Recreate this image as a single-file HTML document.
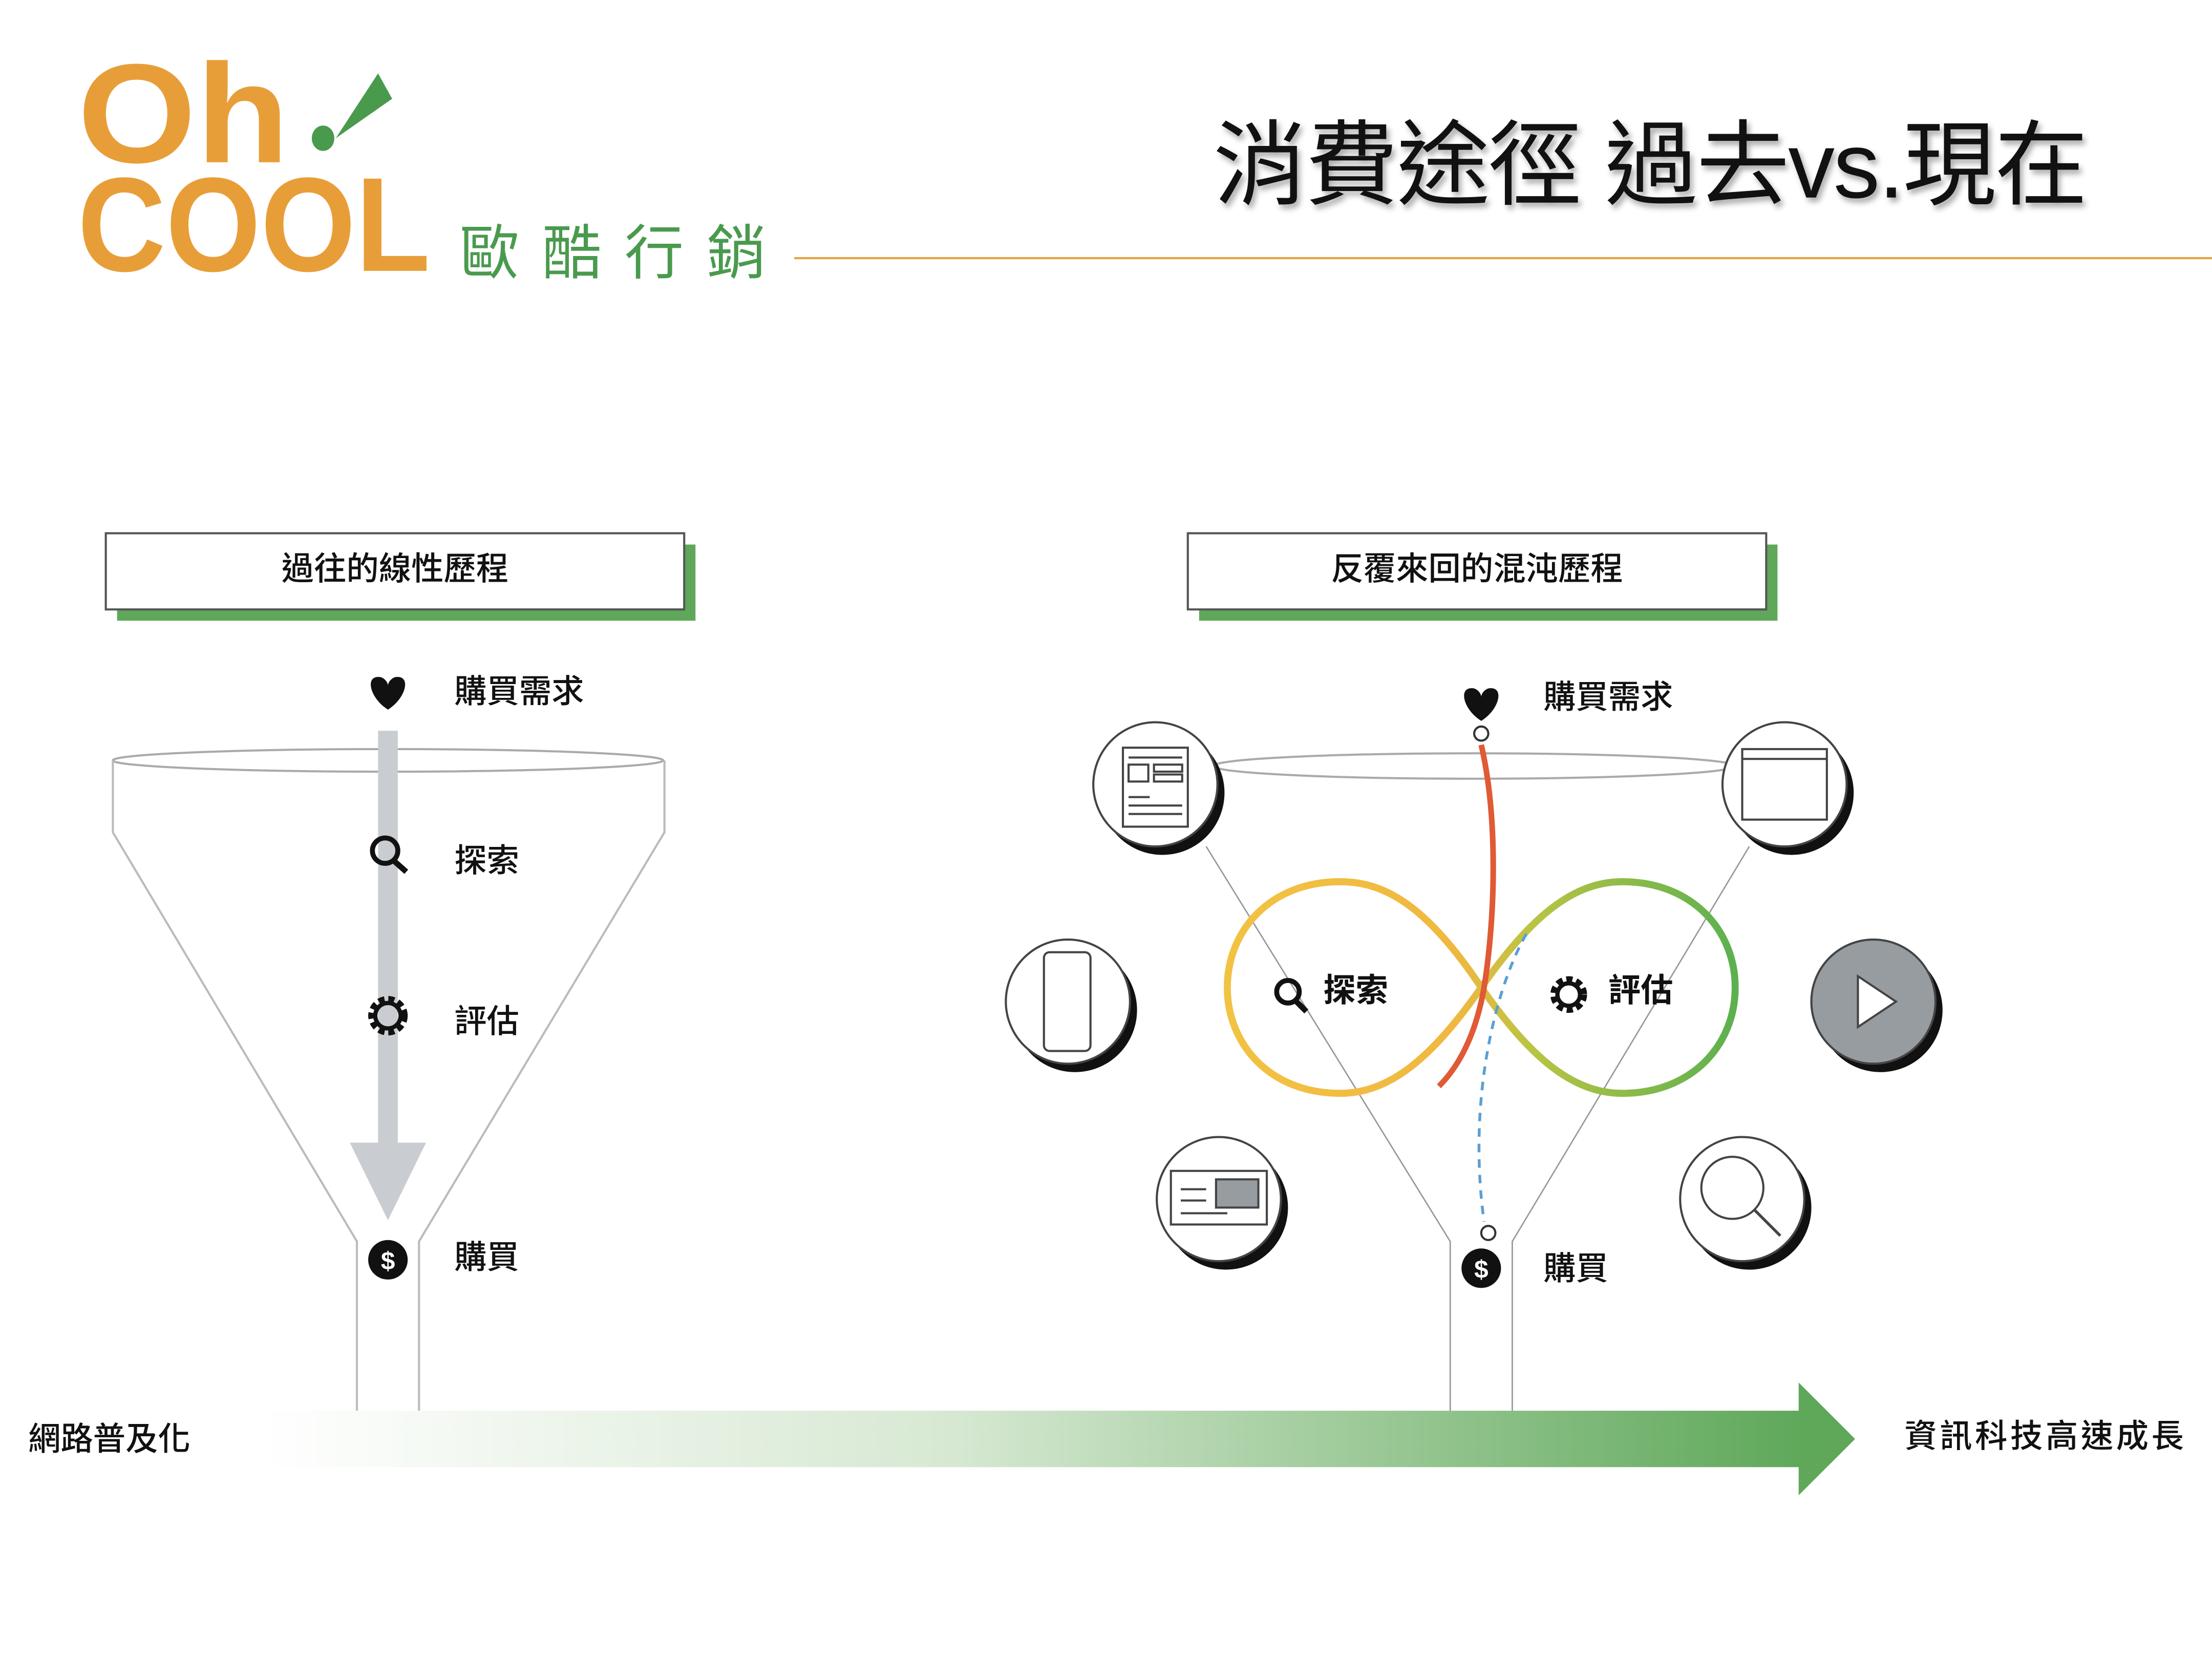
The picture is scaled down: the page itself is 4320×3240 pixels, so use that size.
<!DOCTYPE html>
<html><head><meta charset="utf-8"><style>
html,body{margin:0;padding:0;background:#fff;}
svg{display:block;}
text{font-family:"Liberation Sans","Noto Sans CJK TC",sans-serif;}
</style></head><body>
<svg width="4320" height="3240" viewBox="0 0 1568 1176" xmlns="http://www.w3.org/2000/svg">
<defs>
<linearGradient id="ga" x1="0" x2="1" y1="0" y2="0">
<stop offset="0" stop-color="#ffffff"/><stop offset="0.45" stop-color="#d6e8d2"/><stop offset="1" stop-color="#5fa85a"/>
</linearGradient>
<linearGradient id="inf" x1="0" x2="1" y1="0" y2="0">
<stop offset="0" stop-color="#f2c243"/><stop offset="0.45" stop-color="#f0b840"/><stop offset="0.6" stop-color="#b9c443"/><stop offset="1" stop-color="#5cb050"/>
</linearGradient>
</defs>
<rect width="1568" height="1176" fill="#fff"/>
<!-- logo -->
<text x="55" y="115" font-size="100" font-weight="bold" fill="#e89e38" textLength="150" lengthAdjust="spacingAndGlyphs">Oh</text>
<polygon points="268,52 278,70 238,98" fill="#4a9a4e"/>
<ellipse cx="229" cy="98" rx="8" ry="9" fill="#4a9a4e"/>
<text x="55" y="192" font-size="95" font-weight="bold" fill="#e89e38" textLength="250" lengthAdjust="spacingAndGlyphs">COOL</text>
<text x="326" y="194" font-size="42" fill="#4a9a4e" textLength="217" lengthAdjust="spacing">歐酷行銷</text>
<line x1="563" y1="183" x2="1568" y2="183" stroke="#e8a040" stroke-width="1.5"/>
<text x="860" y="140" font-size="66" fill="#111" textLength="620" lengthAdjust="spacing" style="filter:drop-shadow(2px 3px 2px #aaa)">消費途徑  過去vs.現在</text>

<!-- title boxes -->
<rect x="83" y="386" width="410" height="54" fill="#5fa85a"/>
<rect x="75" y="378" width="410" height="54" fill="#fff" stroke="#555" stroke-width="1.5"/>
<text x="280" y="411" font-size="23" font-weight="500" text-anchor="middle" fill="#111">過往的線性歷程</text>
<rect x="850" y="386" width="410" height="54" fill="#5fa85a"/>
<rect x="842" y="378" width="410" height="54" fill="#fff" stroke="#555" stroke-width="1.5"/>
<text x="1047" y="411" font-size="23" font-weight="500" text-anchor="middle" fill="#111">反覆來回的混沌歷程</text>

<!-- left funnel -->
<ellipse cx="275" cy="539" rx="195" ry="8" fill="none" stroke="#aaa" stroke-width="1.5"/>
<path d="M80,539 V590 L253,880 V1000 M471,539 V590 L297,880 V1000" fill="none" stroke="#bbb" stroke-width="1.5"/>
<rect x="268" y="518" width="14" height="295" fill="#c9cdd1"/>
<polygon points="248,810 302,810 275,865" fill="#c9cdd1"/>
<path d="M275,503 C262,495 258,478 270,480 C273,481 275,484 275,486 C275,484 277,481 280,480 C292,478 288,495 275,503Z" fill="#111"/>
<text x="322" y="498" font-size="23" font-weight="500" fill="#111">購買需求</text>
<circle cx="273" cy="603" r="9" fill="none" stroke="#111" stroke-width="3.5"/>
<line x1="279" y1="610" x2="288" y2="618" stroke="#111" stroke-width="4"/>
<text x="322" y="618" font-size="23" font-weight="500" fill="#111">探索</text>
<circle cx="275" cy="720" r="11" fill="none" stroke="#111" stroke-width="6" stroke-dasharray="4 2.5"/>
<circle cx="275" cy="720" r="9" fill="none" stroke="#111" stroke-width="3"/>
<text x="322" y="732" font-size="23" font-weight="500" fill="#111">評估</text>
<circle cx="275" cy="893" r="14" fill="#111"/>
<text x="275" y="900" font-size="18" font-weight="bold" fill="#fff" text-anchor="middle">$</text>
<text x="322" y="899" font-size="23" font-weight="500" fill="#111">購買</text>

<!-- right funnel -->
<ellipse cx="1045" cy="543" rx="185" ry="9" fill="none" stroke="#aaa" stroke-width="1.5"/>
<path d="M855,600 L1028,880 V1000 M1240,600 L1072,880 V1000" fill="none" stroke="#999" stroke-width="1"/>
<path d="M1050,700 C1010,640 980,625 950,625 C900,625 870,660 870,700 C870,740 900,775 950,775 C985,775 1015,750 1050,700 C1085,650 1115,625 1150,625 C1200,625 1230,660 1230,700 C1230,740 1200,775 1150,775 C1115,775 1085,750 1050,700Z" fill="none" stroke="url(#inf)" stroke-width="5"/>
<path d="M1050,528 C1062,580 1060,650 1052,700 C1045,740 1030,760 1020,770" fill="none" stroke="#e05a35" stroke-width="4"/>
<path d="M1082,662 C1060,700 1040,780 1052,866" fill="none" stroke="#5a9fd4" stroke-width="2" stroke-dasharray="6 5"/>
<path d="M1050,511 C1037,503 1033,486 1045,488 C1048,489 1050,492 1050,494 C1050,492 1052,489 1055,488 C1067,486 1063,503 1050,511Z" fill="#111"/>
<circle cx="1050" cy="520" r="5" fill="#fff" stroke="#333" stroke-width="1.5"/>
<text x="1094" y="502" font-size="23" font-weight="500" fill="#111">購買需求</text>
<circle cx="1055" cy="874" r="5" fill="#fff" stroke="#333" stroke-width="1.5"/>
<circle cx="1050" cy="899" r="14" fill="#111"/>
<text x="1050" y="906" font-size="18" font-weight="bold" fill="#fff" text-anchor="middle">$</text>
<text x="1094" y="907" font-size="23" font-weight="500" fill="#111">購買</text>
<circle cx="913" cy="703" r="8" fill="none" stroke="#111" stroke-width="3.5"/>
<line x1="918" y1="709" x2="926" y2="717" stroke="#111" stroke-width="4"/>
<text x="938" y="710" font-size="23" font-weight="bold" fill="#111">探索</text>
<circle cx="1112" cy="705" r="10" fill="none" stroke="#111" stroke-width="6" stroke-dasharray="4 2.5"/>
<circle cx="1112" cy="705" r="8" fill="none" stroke="#111" stroke-width="3"/>
<text x="1140" y="710" font-size="23" font-weight="bold" fill="#111">評估</text>

<g stroke-width="1.5">
<circle cx="824" cy="562" r="44" fill="#111"/><circle cx="819" cy="556" r="44" fill="#fff" stroke="#444"/>
<rect x="796" y="530" width="46" height="56" fill="none" stroke="#444"/>
<path d="M800,537 H838 M800,565 H815 M800,571 H838 M800,577 H838" stroke="#444"/>
<rect x="800" y="542" width="14" height="12" fill="none" stroke="#444"/><rect x="818" y="542" width="20" height="5" fill="none" stroke="#444"/><rect x="818" y="549" width="20" height="5" fill="none" stroke="#444"/>
<circle cx="1270" cy="562" r="44" fill="#111"/><circle cx="1265" cy="556" r="44" fill="#fff" stroke="#444"/>
<rect x="1235" y="531" width="60" height="50" fill="none" stroke="#444"/><line x1="1235" y1="538" x2="1295" y2="538" stroke="#444"/>
<circle cx="762" cy="716" r="44" fill="#111"/><circle cx="757" cy="710" r="44" fill="#fff" stroke="#444"/>
<rect x="740" y="675" width="33" height="70" rx="4" fill="none" stroke="#444"/>
<circle cx="1333" cy="716" r="44" fill="#111"/><circle cx="1328" cy="710" r="44" fill="#979ca1" stroke="#444"/>
<polygon points="1317,692 1317,728 1344,710" fill="#fff" stroke="#444"/>
<circle cx="869" cy="856" r="44" fill="#111"/><circle cx="864" cy="850" r="44" fill="#fff" stroke="#444"/>
<rect x="830" y="830" width="68" height="38" fill="none" stroke="#444"/><rect x="862" y="836" width="30" height="20" fill="#979ca1" stroke="#444"/>
<path d="M837,843 H855 M837,851 H855 M837,860 H870" stroke="#444"/>
<circle cx="1240" cy="856" r="44" fill="#111"/><circle cx="1235" cy="850" r="44" fill="#fff" stroke="#444"/>
<circle cx="1228" cy="842" r="22" fill="none" stroke="#444"/><line x1="1244" y1="858" x2="1262" y2="876" stroke="#444" stroke-width="2"/>
</g>

<rect x="185" y="1000" width="1092" height="40" fill="url(#ga)"/>
<polygon points="1275,980 1315,1020 1275,1060" fill="#5fa85a"/>
<text x="20" y="1028" font-size="23" font-weight="500" fill="#111">網路普及化</text>
<text x="1350" y="1026" font-size="23" font-weight="500" fill="#111" textLength="198" lengthAdjust="spacing">資訊科技高速成長</text>
</svg>
</body></html>
